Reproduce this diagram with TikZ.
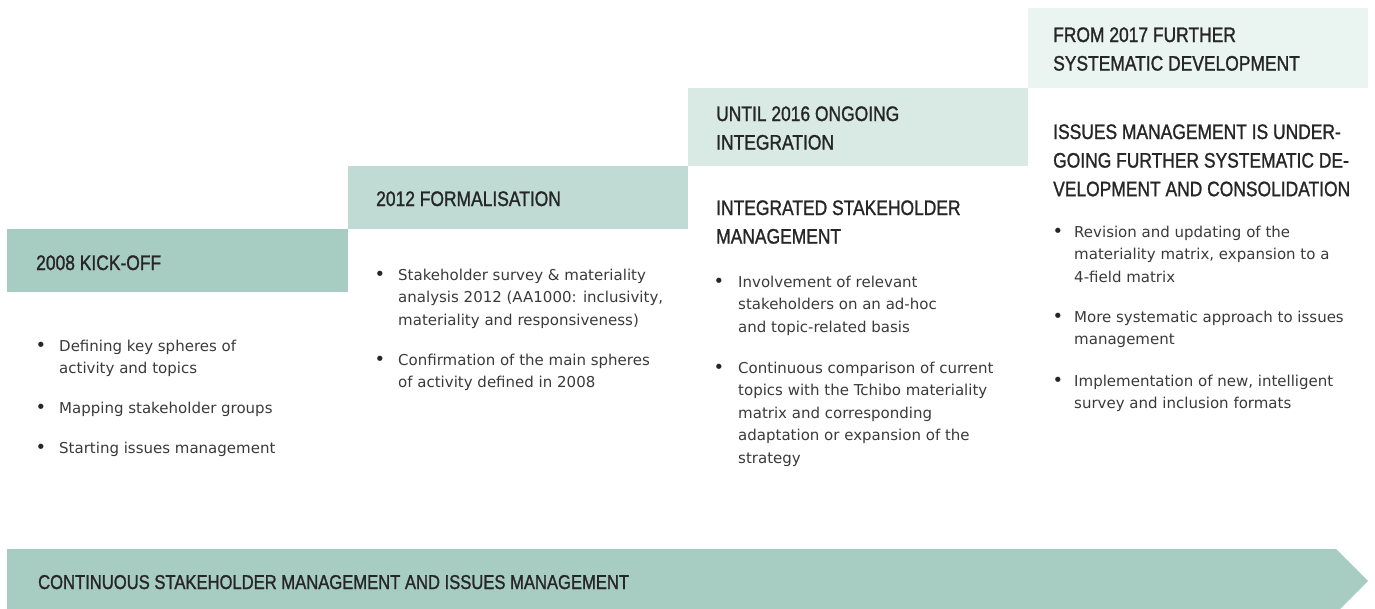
\documentclass[tikz,border=0pt]{standalone}
\usepackage{fontspec}
\setmainfont{DejaVu Sans}
\newfontfamily\headfont[FakeStretch=0.83,FakeBold=1.2]{Liberation Sans}
\newfontfamily\bodyfont{DejaVu Sans}
\definecolor{cA}{HTML}{A7CCC2}
\definecolor{cB}{HTML}{BFDBD3}
\definecolor{cC}{HTML}{D9E9E4}
\definecolor{cD}{HTML}{EAF4F1}
\definecolor{headc}{HTML}{262626}
\definecolor{bodyc}{HTML}{3A3A3A}
\begin{document}
\begin{tikzpicture}[x=1pt,y=-1pt,
  band/.style={draw=none, inner sep=0pt, outer sep=0pt, anchor=north west},
  head/.style={anchor=base west, inner sep=0pt, align=left, text=headc,
    font=\headfont\fontsize{21}{28.6}\selectfont},
  item/.style={anchor=base west, inner sep=0pt, align=left, text=bodyc,
    font=\bodyfont\fontsize{15}{22.6}\selectfont},
  dot/.style={anchor=base, inner sep=0pt, text=headc,
    font=\bodyfont\fontsize{18}{22.6}\selectfont}]
\useasboundingbox (0,0) rectangle (1375,608);
\clip (0,0) rectangle (1375,608);
% step boxes
\node[band, fill=cA, minimum width=341pt, minimum height=63pt] (b1) at (7,229) {};
\node[band, fill=cB, minimum width=340pt, minimum height=63pt] (b2) at (348,166) {};
\node[band, fill=cC, minimum width=340pt, minimum height=78pt] (b3) at (688,88) {};
\node[band, fill=cD, minimum width=340pt, minimum height=80pt] (b4) at (1028,8) {};
% bottom arrow
\fill[cA] (7,549) -- (1336,549) -- (1368,581) -- (1336,613) -- (7,613) -- cycle;
% headings (anchor is the baseline of the last line)
\node[head] (h1) at (36,270) {2008 KICK-OFF};
\node[head] (h2) at (376,206) {2012 FORMALISATION};
\node[head] (h3) at (716,149.6) {UNTIL 2016 ONGOING\\INTEGRATION};
\node[head] (h4) at (1053,70.6) {FROM 2017 FURTHER\\SYSTEMATIC DEVELOPMENT};
\node[head] (s3) at (716,243.6) {INTEGRATED STAKEHOLDER\\MANAGEMENT};
\node[head] (s4) at (1053,196.2) {ISSUES MANAGEMENT IS UNDER-\\GOING FURTHER SYSTEMATIC DE-\\VELOPMENT AND CONSOLIDATION};
\node[head, font=\headfont\fontsize{20}{24}\selectfont] (ha) at (38,589) {CONTINUOUS STAKEHOLDER MANAGEMENT AND ISSUES MANAGEMENT};
% column 1
\node[dot] (d11) at (41,351) {•};
\node[item] (t11) at (59,373.6) {Defining key spheres of\\activity and topics};
\node[dot] (d12) at (41,413) {•};
\node[item] (t12) at (59,413) {Mapping stakeholder groups};
\node[dot] (d13) at (41,453) {•};
\node[item] (t13) at (59,453) {Starting issues management};
% column 2
\node[dot] (d21) at (380,280) {•};
\node[item] (t21) at (398,325.2) {Stakeholder survey \& materiality\\analysis 2012 (AA1000: inclusivity,\\materiality and responsiveness)};
\node[dot] (d22) at (380,365) {•};
\node[item] (t22) at (398,387.6) {Confirmation of the main spheres\\of activity defined in 2008};
% column 3
\node[dot] (d31) at (719,287) {•};
\node[item] (t31) at (738,332.2) {Involvement of relevant\\stakeholders on an ad-hoc\\and topic-related basis};
\node[dot] (d32) at (719,373) {•};
\node[item] (t32) at (738,463.4) {Continuous comparison of current\\topics with the Tchibo materiality\\matrix and corresponding\\adaptation or expansion of the\\strategy};
% column 4
\node[dot] (d41) at (1058,237) {•};
\node[item] (t41) at (1074,282.2) {Revision and updating of the\\materiality matrix, expansion to a\\4-field matrix};
\node[dot] (d42) at (1058,322) {•};
\node[item] (t42) at (1074,344.6) {More systematic approach to issues\\management};
\node[dot] (d43) at (1058,386) {•};
\node[item] (t43) at (1074,408.6) {Implementation of new, intelligent\\survey and inclusion formats};
\end{tikzpicture}
\end{document}
